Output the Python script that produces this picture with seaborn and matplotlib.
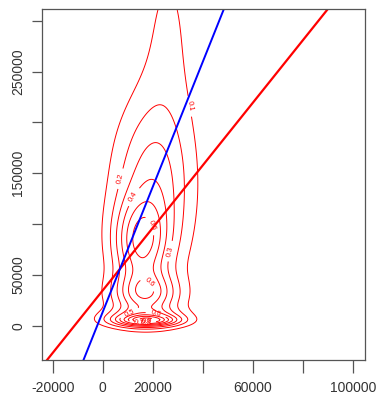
import numpy as np
import matplotlib
matplotlib.use("Agg")
import matplotlib.pyplot as plt
import seaborn as sns

# density bumps (centre, spread, peak height)
comp_x_mean = [18000, 16500, 17000, 15000, 20000, 26000]
comp_y_mean = [5000, 7000, 30000, 80000, 135000, 290000]
comp_x_sd = [8000, 11000, 9000, 7500, 11000, 8500]
comp_y_sd = [3500, 6500, 15000, 30000, 60000, 80000]
comp_peak = [0.42, 0.38, 0.45, 0.45, 0.35, 0.11]

contour_levels = [0.1, 0.2, 0.3, 0.4, 0.5, 0.6, 0.7, 0.8, 0.9, 1.0]

# the two fitted lines
red_intercept = 34800
red_slope = 3.08
blue_intercept = 13700
blue_slope = 6.16

x_ticks = [-20000, 0, 20000, 40000, 60000, 80000, 100000]
x_ticklabels = ["-20000", "0", "20000", "", "60000", "", "100000"]
y_ticks = [0, 50000, 100000, 150000, 200000, 250000, 300000]
y_ticklabels = ["0", "50000", "", "150000", "", "250000", ""]

sns.set_style("white")
plt.rcParams["font.family"] = ["Liberation Sans", "DejaVu Sans"]

fig = plt.figure(figsize=(3.78, 4.07), dpi=100)
ax = fig.add_axes([0.1103, 0.1143, 0.8561, 0.8643])

gx = np.linspace(-25000, 105000, 260)
gy = np.linspace(-35000, 320000, 260)
X, Y = np.meshgrid(gx, gy)
Z = np.zeros_like(X)
for mx, my, sx, sy, h in zip(comp_x_mean, comp_y_mean, comp_x_sd, comp_y_sd, comp_peak):
    Z += h * np.exp(-((X - mx) ** 2) / (2 * sx ** 2) - ((Y - my) ** 2) / (2 * sy ** 2))

cs = ax.contour(X, Y, Z, levels=contour_levels, colors="red", linewidths=0.7)
ax.clabel(cs, inline=True, fontsize=5.5, fmt=lambda v: f"{v:g}", colors="red")

ax.axline((0, red_intercept), slope=red_slope, color="#ff0000", lw=1.6)
ax.axline((0, blue_intercept), slope=blue_slope, color="#0000ff", lw=1.4)

ax.set_xlim(-24390, 104790)
ax.set_ylim(-34230, 311800)

ax.set_xticks(x_ticks)
ax.set_xticklabels(x_ticklabels)
ax.set_yticks(y_ticks)
ax.set_yticklabels(y_ticklabels, rotation=90, va="center")

for s in ax.spines.values():
    s.set_color("#555555")
    s.set_linewidth(0.9)
ax.tick_params(axis="x", length=9, width=0.9, color="#555555", pad=6,
               labelsize=10, labelcolor="#333333", bottom=True)
ax.tick_params(axis="y", length=7, width=0.9, color="#555555", pad=5,
               labelsize=10, labelcolor="#333333", left=True)
ax.grid(False)

fig.savefig("out.png", dpi=100)
